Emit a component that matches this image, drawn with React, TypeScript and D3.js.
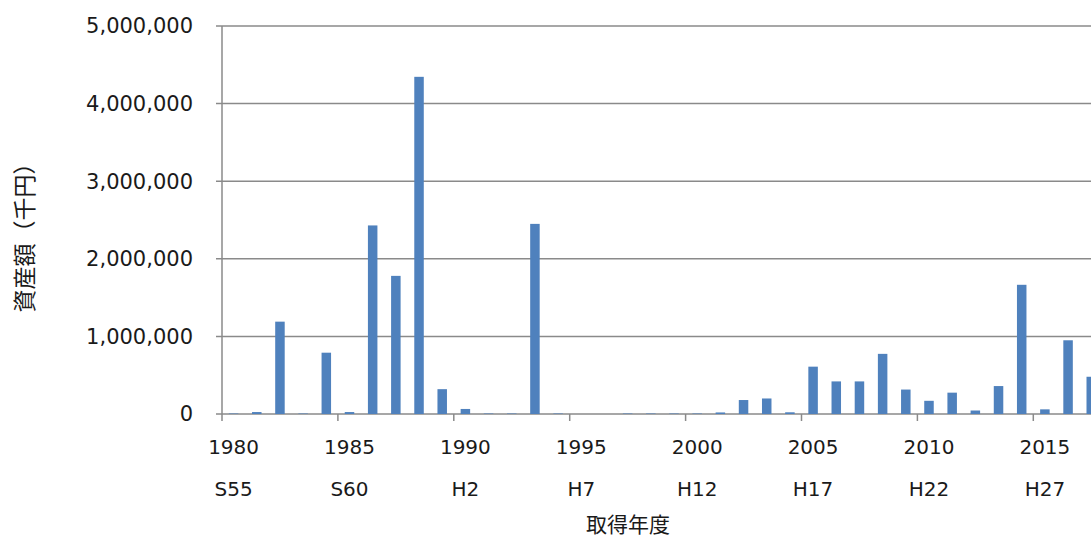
import React from "react";
import * as d3 from "d3";

const years: number[] = [
  1980, 1981, 1982, 1983, 1984, 1985, 1986, 1987, 1988, 1989,
  1990, 1991, 1992, 1993, 1994, 1995, 1996, 1997, 1998, 1999,
  2000, 2001, 2002, 2003, 2004, 2005, 2006, 2007, 2008, 2009,
  2010, 2011, 2012, 2013, 2014, 2015, 2016, 2017,
];

const values: number[] = [
  6000, 25000, 1190000, 6000, 790000, 25000, 2430000, 1780000, 4345000, 320000,
  65000, 6000, 6000, 2450000, 6000, 0, 0, 6000, 6000, 6000,
  6000, 20000, 180000, 200000, 22000, 610000, 420000, 420000, 775000, 315000,
  170000, 275000, 45000, 360000, 1665000, 60000, 950000, 480000,
];

const labelYears: number[] = [1980, 1985, 1990, 1995, 2000, 2005, 2010, 2015];
const eraLabels: string[] = ["S55", "S60", "H2", "H7", "H12", "H17", "H22", "H27"];
const yTicks: number[] = [0, 1000000, 2000000, 3000000, 4000000, 5000000];

const yTitle = "資産額（千円）";
const xTitle = "取得年度";

const W = 1091;
const H = 538;
const left = 222;
const step = 23.18;
const top = 26;
const bottom = 414;

export default function App() {
  const x = d3
    .scaleBand<number>()
    .domain(years)
    .range([left, left + step * years.length])
    .paddingInner(0.59)
    .paddingOuter(0.295);
  const y = d3.scaleLinear().domain([0, 5000000]).range([bottom, top]);
  const fmt = d3.format(",");
  const right = left + step * years.length;
  const bandStart = (yr: number) => (x(yr) as number) - (x.step() * x.paddingInner()) / 2;
  const bandCenter = (yr: number) => (x(yr) as number) + x.bandwidth() / 2;
  const font = "'DejaVu Sans', Verdana, sans-serif";
  const cjk = "'Noto Sans CJK JP', sans-serif";

  return (
    <svg
      width={W}
      height={H}
      style={{ position: "absolute", left: 0, top: 0, overflow: "hidden", background: "#fff" }}
    >
      {yTicks.map((t) => (
        <g key={t}>
          <line x1={left - 6} x2={right} y1={y(t)} y2={y(t)} stroke="#8a8a8a" strokeWidth={1.5} />
          <text
            x={193}
            y={y(t)}
            dy="0.35em"
            textAnchor="end"
            fontFamily={font}
            fontSize={21}
            fill="#1a1a1a"
          >
            {fmt(t)}
          </text>
        </g>
      ))}
      <line x1={left} x2={left} y1={top} y2={bottom} stroke="#8a8a8a" strokeWidth={1.5} />
      {years.map((yr, i) => (
        <rect
          key={yr}
          x={x(yr)}
          y={y(values[i])}
          width={x.bandwidth()}
          height={bottom - y(values[i])}
          fill="#4F81BD"
        />
      ))}
      {labelYears.map((yr, i) => (
        <g key={yr}>
          <line
            x1={bandStart(yr)}
            x2={bandStart(yr)}
            y1={bottom}
            y2={bottom + 7}
            stroke="#8a8a8a"
            strokeWidth={1.5}
          />
          <text
            x={bandCenter(yr)}
            y={447}
            dy="0.35em"
            textAnchor="middle"
            fontFamily={font}
            fontSize={20}
            fill="#1a1a1a"
          >
            {yr}
          </text>
          <text
            x={bandCenter(yr)}
            y={489}
            dy="0.35em"
            textAnchor="middle"
            fontFamily={font}
            fontSize={20}
            fill="#1a1a1a"
          >
            {eraLabels[i]}
          </text>
        </g>
      ))}
      <text
        x={628}
        y={525}
        dy="0.35em"
        textAnchor="middle"
        fontFamily={cjk}
        fontSize={21}
        fill="#1a1a1a"
      >
        {xTitle}
      </text>
      <text
        transform={`translate(25,232) rotate(-90)`}
        dy="0.35em"
        textAnchor="middle"
        fontFamily={cjk}
        fontSize={23}
        fill="#1a1a1a"
      >
        {yTitle}
      </text>
    </svg>
  );
}
